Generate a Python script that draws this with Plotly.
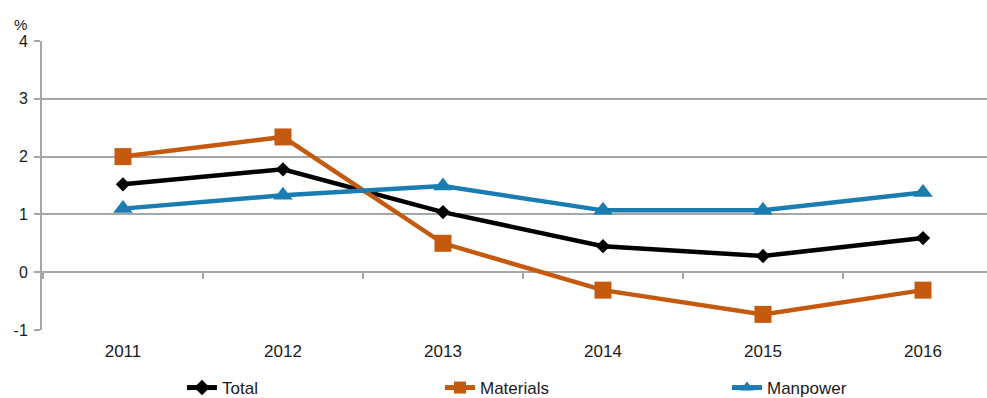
import plotly.graph_objects as go

years = ["2011", "2012", "2013", "2014", "2015", "2016"]
total = [1.52, 1.78, 1.04, 0.45, 0.28, 0.59]
materials = [2.0, 2.34, 0.5, -0.31, -0.73, -0.31]
manpower = [1.1, 1.33, 1.49, 1.07, 1.07, 1.38]
y_ticks = [-1, 0, 1, 2, 3, 4]
y_tick_labels = ["-1", "0", "1", "2", "3", "4"]

xs = list(range(len(years)))
boundaries = [i + 0.5 for i in range(-1, len(years))]

FONT = "Liberation Sans, Arial, sans-serif"
GRID = "#a6a6a6"
TXT = "#1a1a1a"
W, H = 987, 398

fig = go.Figure()
fig.add_trace(go.Scatter(x=xs, y=total, name="Total", mode="lines+markers",
                         line=dict(color="#000000", width=4.5),
                         marker=dict(symbol="diamond", size=11, color="#000000"),
                         legend="legend"))
fig.add_trace(go.Scatter(x=xs, y=materials, name="Materials", mode="lines+markers",
                         line=dict(color="#C55A0E", width=4.5),
                         marker=dict(symbol="square", size=17, color="#C55A0E"),
                         legend="legend2"))
fig.add_trace(go.Scatter(x=xs, y=manpower, name="Manpower", mode="lines+markers",
                         line=dict(color="#1A7DB1", width=4.5),
                         marker=dict(symbol="triangle-up", size=17, color="#1A7DB1"),
                         legend="legend3"))


def leg(text_x):
    return dict(orientation="h", xref="container", yref="container",
                x=(text_x - 40) / W, xanchor="left",
                y=10 / H, yanchor="middle",
                font=dict(size=17, family=FONT, color=TXT),
                bgcolor="rgba(0,0,0,0)", itemsizing="constant")


xr = [-0.506, 5.4]
fig.update_layout(
    width=W, height=H,
    margin=dict(l=42, r=0, t=41, b=68, pad=0),
    paper_bgcolor="white", plot_bgcolor="white",
    font=dict(family=FONT, size=16, color=TXT),
    showlegend=True,
    legend=leg(222), legend2=leg(480), legend3=leg(767),
    xaxis=dict(range=xr, tickmode="array", tickvals=xs, ticktext=years,
               showgrid=False, zeroline=False, showline=False, ticks="",
               ticklabelstandoff=9, tickfont=dict(size=17, family=FONT, color=TXT)),
    xaxis2=dict(range=xr, overlaying="x", anchor="free", position=0.2, side="bottom",
                tickmode="array", tickvals=boundaries, showticklabels=False,
                ticks="outside", ticklen=6, tickwidth=1.5, tickcolor=GRID,
                showgrid=False, zeroline=False, showline=False),
    yaxis=dict(range=[-1, 4], tickmode="array", tickvals=y_ticks, ticktext=y_tick_labels,
               showgrid=True, gridcolor=GRID, gridwidth=1.8,
               zeroline=False, showline=True, linecolor=GRID, linewidth=2,
               ticks="outside", ticklen=6, tickcolor=GRID, tickwidth=1.5,
               ticklabelstandoff=3, tickfont=dict(size=16, family=FONT, color=TXT)),
    annotations=[dict(text="%", xref="paper", yref="paper", x=-0.023, y=1.02,
                      xanchor="center", yanchor="bottom", showarrow=False,
                      font=dict(size=15, family=FONT, color=TXT))],
)
fig.add_trace(go.Scatter(x=[xr[0]], y=[None], xaxis="x2", showlegend=False,
                         hoverinfo="skip", mode="markers", marker=dict(opacity=0)))

fig.write_html("out.html")
